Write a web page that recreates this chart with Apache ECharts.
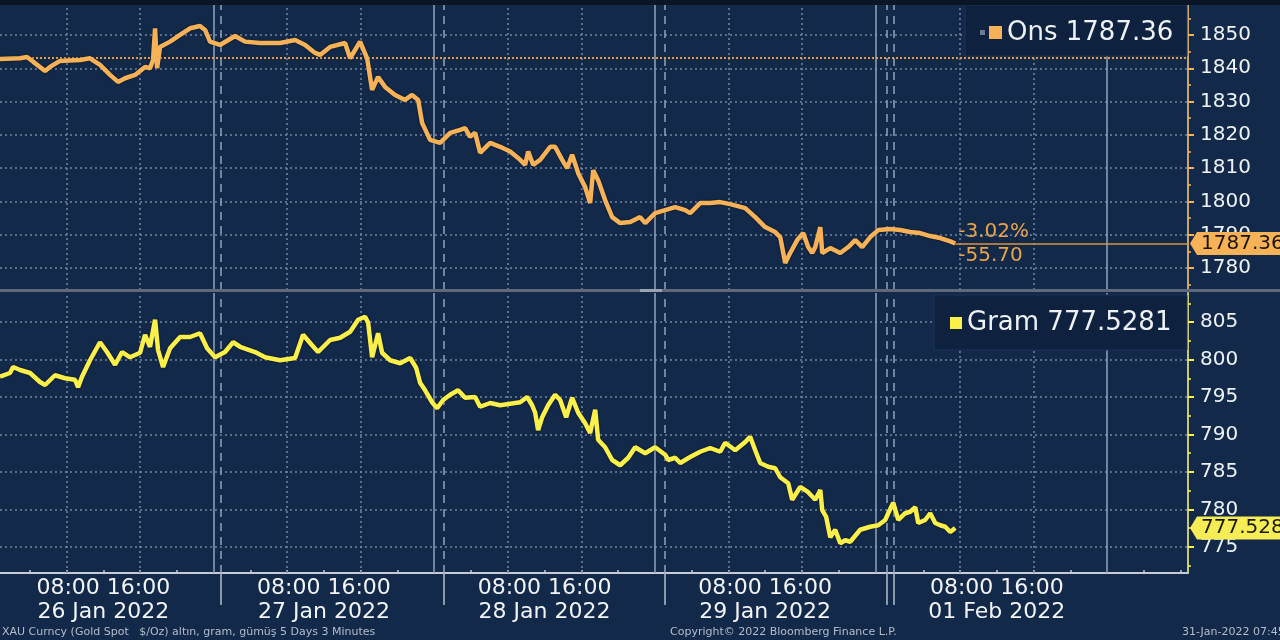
<!DOCTYPE html>
<html>
<head>
<meta charset="utf-8">
<script src="https://cdn.jsdelivr.net/npm/echarts@6/dist/echarts.min.js"></script>
<style>
html,body{margin:0;padding:0;background:#12294a;}
#chart{width:1280px;height:640px;}
</style>
</head>
<body>
<div id="chart"></div>
<script>
// ---- Data (x in hours since 26 Jan 2022 00:00 on the chart's compressed time scale) ----
const onsName = 'Ons';
const gramName = 'Gram';
const onsHours = [0.76,2.94,3.70,4.35,5.66,6.20,7.29,9.47,10.55,11.64,12.73,13.60,14.36,15.45,16.54,17.08,17.41,17.63,17.85,18.17,19.26,20.35,21.44,22.52,23.07,23.61,24.70,26.33,27.42,29.05,31.23,32.86,33.95,35.04,35.58,36.67,38.30,38.85,39.93,40.70,41.24,41.89,42.65,43.74,44.83,45.59,46.25,46.68,47.55,48.64,49.73,50.82,51.36,51.90,52.45,52.99,54.08,55.17,56.26,57.35,57.89,58.22,58.76,59.52,60.61,61.15,61.92,62.46,63.00,63.66,64.42,64.96,65.29,65.83,66.59,67.36,68.23,69.32,70.40,70.95,72.03,73.12,74.21,75.30,75.84,76.93,78.02,79.11,80.20,81.83,82.92,84.00,85.09,85.64,86.18,86.72,87.49,88.14,88.68,89.12,89.45,90.00,90.21,91.08,92.17,93.04,93.80,94.56,95.43,96.30,97.61,98.69,99.78,100.87,101.96,103.05,104.14,104.68];
const onsValues = [1842.8,1843.0,1843.4,1842.0,1839.2,1840.4,1842.2,1842.5,1843.0,1841.0,1838.0,1835.9,1837.0,1838.0,1840.4,1840.0,1842.5,1852.0,1840.0,1846.4,1848.0,1850.0,1852.0,1852.7,1851.5,1848.0,1847.0,1849.7,1848.0,1847.6,1847.6,1848.5,1847.0,1844.6,1844.0,1846.4,1847.6,1843.0,1848.0,1843.0,1833.5,1837.4,1834.4,1832.0,1830.5,1832.0,1830.5,1823.6,1818.5,1817.6,1820.6,1821.5,1822.0,1819.4,1820.6,1814.6,1817.6,1816.4,1815.0,1812.5,1811.0,1815.0,1811.0,1812.5,1816.4,1816.4,1812.5,1810.0,1814.0,1808.5,1804.3,1799.5,1809.4,1806.4,1800.4,1795.3,1793.5,1793.8,1795.3,1793.5,1796.5,1797.4,1798.3,1797.4,1796.5,1799.5,1799.5,1799.8,1799.2,1798.0,1795.3,1792.3,1790.8,1789.3,1781.5,1784.5,1788.4,1790.5,1786.3,1784.5,1786.3,1792.3,1784.5,1786.0,1784.5,1786.3,1788.4,1786.3,1789.3,1791.4,1791.7,1791.4,1790.8,1790.5,1789.6,1789.0,1788.0,1787.36];
const gramHours = [0.76,1.85,2.18,2.94,4.03,5.11,5.66,6.75,7.83,8.92,9.25,9.68,10.55,11.64,12.40,13.28,14.04,14.91,16.00,16.54,17.08,17.63,17.95,18.50,19.26,20.35,21.44,22.52,23.29,24.16,25.24,26.12,26.88,28.51,29.60,31.23,32.86,33.73,34.71,35.36,36.67,37.76,38.85,39.72,40.48,40.81,41.24,41.89,42.33,43.20,44.29,45.38,46.03,46.46,47.01,47.77,48.31,48.97,49.73,50.60,51.36,52.45,52.99,54.08,55.17,57.35,58.11,58.65,58.98,59.30,59.74,60.39,61.15,61.70,62.35,63.00,63.66,64.42,64.96,65.51,65.83,66.59,67.36,68.23,69.10,69.86,70.95,72.03,73.12,73.45,74.21,74.76,75.84,76.93,78.02,79.11,79.65,80.74,81.83,82.37,82.92,83.46,84.33,85.09,85.64,86.51,86.94,87.81,88.68,89.45,90.00,90.21,90.64,91.08,91.62,92.17,92.71,93.26,94.34,95.43,96.30,97.06,97.39,97.93,98.48,99.24,99.78,100.33,100.65,101.41,101.96,102.50,103.05,103.59,104.14,104.68];
const gramValues = [797.7,798.2,799.0,798.6,798.2,797.0,796.6,797.9,797.5,797.3,796.3,797.7,799.9,802.3,801.0,799.3,801.0,800.3,800.9,803.3,801.7,805.3,801.3,799.0,801.5,803.0,803.0,803.5,801.5,800.3,801.0,802.3,801.7,801.0,800.3,799.9,800.2,803.3,801.9,801.0,802.6,802.9,803.7,805.3,805.7,804.9,800.3,803.5,800.9,799.9,799.5,800.2,798.9,796.9,795.9,794.3,793.5,794.6,795.3,795.9,794.9,795.0,793.7,794.2,793.9,794.3,795.0,793.9,792.9,790.6,792.3,793.9,795.3,794.6,792.3,794.9,792.9,791.5,790.2,793.3,789.3,788.3,786.6,785.9,786.9,788.3,787.5,788.3,787.3,786.6,786.9,786.2,787.0,787.7,788.2,787.7,788.9,787.9,789.0,789.7,787.9,786.2,785.7,785.5,784.3,783.5,781.3,783.0,782.3,781.3,782.6,779.9,779.0,776.3,777.3,775.5,775.9,775.7,777.3,777.7,777.9,778.6,779.5,780.9,778.6,779.5,779.7,780.3,778.2,778.6,779.5,778.2,777.9,777.7,777.0,777.5281];
const onsPrevClose = 1843.06;
const onsTicks = [1780,1790,1800,1810,1820,1830,1840,1850];
const onsMinorTicks = [1775,1785,1795,1805,1815,1825,1835,1845,1855];
const gramTicks = [775,780,785,790,795,800,805];
const gramMinorTicks = [772.5,777.5,782.5,787.5,792.5,797.5,802.5,807.5];
const dayLabels = ['26 Jan 2022','27 Jan 2022','28 Jan 2022','29 Jan 2022','01 Feb 2022'];
const dayLabelHours = [12,36,60,84,109.2];
const hourLabelText = '08:00 16:00';
const dayBoundaryHours = [24,48,72,96,121.2];
const sessionStartHours = [24.8,49,73.1,97.2,98.0];
const hourGridHours = [8,16,32,40,56,64,80,88,105.2,113.2];
const fourHourTicks = [4,8,12,16,20,28,32,36,40,44,52,56,60,64,68,76,80,84,88,92,101.2,105.2,109.2,113.2,117.2,125.2,129.2];
const footerLeft = 'XAU Curncy (Gold Spot   $/Oz) altın, gram, gümüş 5 Days 3 Minutes';
const footerMid = 'Copyright\u00A9 2022 Bloomberg Finance L.P.';
const footerRight = '31-Jan-2022 07:45';

// ---- Build ----
const X_MIN = 0.76, X_MAX = 130.0;
const FONT = 'DejaVu Sans';
const ORANGE = '#f7b257';
const YELLOW = '#fbef4a';
const GRIDC = '#7487a3';
const VLINE = '#94a4bb';

const onsData = onsHours.map((h,i)=>[h,onsValues[i]]);
const gramData = gramHours.map((h,i)=>[h,gramValues[i]]);
const onsLast = onsValues[onsValues.length-1];
const onsLastH = onsHours[onsHours.length-1];
const gramLast = gramValues[gramValues.length-1];
const onsChange = onsLast - onsPrevClose;
const onsPct = onsChange / onsPrevClose * 100;

function vLines(){
  const arr = [];
  dayBoundaryHours.forEach(h=>arr.push({xAxis:h,lineStyle:{color:VLINE,width:1.5,type:'solid'}}));
  sessionStartHours.forEach(h=>arr.push({xAxis:h,lineStyle:{color:VLINE,width:1.5,type:[8,6]}}));
  hourGridHours.forEach(h=>arr.push({xAxis:h,lineStyle:{color:GRIDC,width:1.5,type:[2,3]}}));
  return arr;
}
const tagPath = 'path://M0,12 L7,0 L100,0 L100,24 L7,24 Z';
const plain = v => String(v);

const chart = echarts.init(document.getElementById('chart'), null, {renderer:'canvas'});
chart.setOption({
  animation:false,
  backgroundColor:'#12294a',
  grid:[
    {left:0, top:5, width:1188, height:285},
    {left:0, top:293, width:1188, height:280}
  ],
  xAxis:[
    {type:'value', gridIndex:0, min:X_MIN, max:X_MAX, show:false, splitLine:{show:false}},
    {type:'value', gridIndex:1, min:X_MIN, max:X_MAX, position:'bottom',
      axisLine:{show:true, lineStyle:{color:'#c3ccd8', width:2}},
      axisTick:{show:true, customValues:sessionStartHours, length:32, lineStyle:{color:'#b2bdcc', width:1.5}},
      axisLabel:{show:true, customValues:dayLabelHours, margin:3, color:'#f2f4f8', fontFamily:FONT, fontSize:22, lineHeight:24,
        formatter:function(v){
          let best=0, bd=1e9;
          dayLabelHours.forEach((h,i)=>{const d=Math.abs(h-v); if(d<bd){bd=d;best=i;}});
          return hourLabelText + '\n' + dayLabels[best];
        }},
      splitLine:{show:false}},
    {type:'value', gridIndex:1, min:X_MIN, max:X_MAX, position:'bottom',
      axisLine:{show:false},
      axisTick:{show:true, inside:true, customValues:fourHourTicks, length:3, lineStyle:{color:'#c3ccd8', width:1.5}},
      axisLabel:{show:false}, splitLine:{show:false}}
  ],
  yAxis:[
    {type:'value', gridIndex:0, position:'right', min:1773.4, max:1859.0,
      axisLine:{show:true, lineStyle:{color:'#c9a46c', width:2}},
      axisTick:{show:true, customValues:onsTicks, length:6, lineStyle:{color:ORANGE, width:2}},
      axisLabel:{show:true, customValues:onsTicks, margin:12, color:'#eef2f7', fontFamily:FONT, fontSize:20, formatter:plain},
      splitLine:{show:true, lineStyle:{color:GRIDC, width:1.5, type:[2,3]}}},
    {type:'value', gridIndex:0, position:'right', min:1773.4, max:1859.0,
      axisLine:{show:false},
      axisTick:{show:true, customValues:onsMinorTicks, length:3, lineStyle:{color:ORANGE, width:1.5}},
      axisLabel:{show:false}, splitLine:{show:false}},
    {type:'value', gridIndex:1, position:'right', min:771.53, max:808.87,
      axisLine:{show:true, lineStyle:{color:'#c6c872', width:2}},
      axisTick:{show:true, customValues:gramTicks, length:6, lineStyle:{color:YELLOW, width:2}},
      axisLabel:{show:true, customValues:gramTicks, margin:12, color:'#eef2f7', fontFamily:FONT, fontSize:20, formatter:plain},
      splitLine:{show:true, lineStyle:{color:GRIDC, width:1.5, type:[2,3]}}},
    {type:'value', gridIndex:1, position:'right', min:771.53, max:808.87,
      axisLine:{show:false},
      axisTick:{show:true, customValues:gramMinorTicks, length:3, lineStyle:{color:YELLOW, width:1.5}},
      axisLabel:{show:false}, splitLine:{show:false}}
  ],
  series:[
    {type:'line', name:onsName, xAxisIndex:0, yAxisIndex:0, data:onsData, showSymbol:false, clip:false, z:5,
      lineStyle:{color:ORANGE, width:4.5, shadowColor:'rgba(0,0,0,0.6)', shadowBlur:2},
      markLine:{silent:true, symbol:'none', label:{show:false}, z:3,
        data: vLines().concat([
          {yAxis:onsPrevClose, lineStyle:{color:'#e39c3e', width:2, type:[2,2]}},
          [{coord:[onsLastH,onsLast], lineStyle:{color:'#d9953f', width:1.5, type:'solid'}},{coord:[X_MAX,onsLast]}]
        ])},
      markPoint:{silent:true, z:10,
        data:[
          {coord:[X_MAX,onsLast], symbol:tagPath, symbolSize:[100,23], symbolKeepAspect:false, symbolOffset:[52,0],
            itemStyle:{color:ORANGE},
            label:{show:true, position:'insideLeft', distance:11, formatter:onsLast.toFixed(2), color:'#1a1408', fontFamily:FONT, fontSize:20}},
          {coord:[onsLastH,onsLast], symbol:'circle', symbolSize:2, itemStyle:{color:'rgba(0,0,0,0)'},
            label:{show:true, position:'right', distance:2, formatter:onsPct.toFixed(2)+'%\n'+onsChange.toFixed(2), color:'#e9a44a', fontFamily:FONT, fontSize:20, lineHeight:24, align:'left'}}
        ]}
    },
    {type:'line', name:gramName, xAxisIndex:1, yAxisIndex:2, data:gramData, showSymbol:false, clip:false, z:5,
      lineStyle:{color:YELLOW, width:4.5, shadowColor:'rgba(0,0,0,0.6)', shadowBlur:2},
      markLine:{silent:true, symbol:'none', label:{show:false}, z:3, data:vLines()},
      markPoint:{silent:true, z:10,
        data:[
          {coord:[X_MAX,gramLast], symbol:tagPath, symbolSize:[100,23], symbolKeepAspect:false, symbolOffset:[52,0],
            itemStyle:{color:'#f6ec55'},
            label:{show:true, position:'insideLeft', distance:11, formatter:gramLast.toFixed(4), color:'#1a1a08', fontFamily:FONT, fontSize:20}}
        ]}
    }
  ],
  graphic:[
    {type:'rect', shape:{x:0,y:0,width:1280,height:5}, style:{fill:'#0a1527'}, z:50, silent:true},
    {type:'line', shape:{x1:0,y1:290.5,x2:1280,y2:290.5}, style:{stroke:'#5f6979', lineWidth:3}, z:50, silent:true},
    {type:'rect', shape:{x:640,y:289,width:22,height:3}, style:{fill:'#9aa3b0'}, z:51, silent:true},
    // legend boxes
    {type:'rect', shape:{x:965,y:5,width:222,height:51}, style:{fill:'#0e213e', stroke:'#1d3558', lineWidth:1}, z:40, silent:true},
    {type:'rect', shape:{x:980,y:30,width:5,height:5}, style:{fill:'#6b7b93'}, z:41, silent:true},
    {type:'rect', shape:{x:989,y:26,width:13,height:13}, style:{fill:ORANGE}, z:41, silent:true},
    {type:'text', x:1007, y:33, style:{text:onsName+' '+onsLast.toFixed(2), fill:'#eef2f7', font:'26px "DejaVu Sans"', verticalAlign:'middle'}, z:41, silent:true},
    {type:'rect', shape:{x:934,y:295,width:253,height:55}, style:{fill:'#0e213e', stroke:'#1d3558', lineWidth:1}, z:40, silent:true},
    {type:'rect', shape:{x:950,y:317,width:12,height:12}, style:{fill:YELLOW}, z:41, silent:true},
    {type:'text', x:967, y:323, style:{text:gramName+' '+gramLast.toFixed(4), fill:'#eef2f7', font:'26px "DejaVu Sans"', verticalAlign:'middle'}, z:41, silent:true},
    // footer
    {type:'text', x:2, y:632, style:{text:footerLeft, fill:'#b3bdca', font:'11px "DejaVu Sans"', verticalAlign:'middle'}, z:41, silent:true},
    {type:'text', x:670, y:632, style:{text:footerMid, fill:'#b3bdca', font:'11px "DejaVu Sans"', verticalAlign:'middle'}, z:41, silent:true},
    {type:'text', x:1182, y:632, style:{text:footerRight, fill:'#b3bdca', font:'11px "DejaVu Sans"', verticalAlign:'middle'}, z:41, silent:true}
  ]
});
</script>
</body>
</html>
